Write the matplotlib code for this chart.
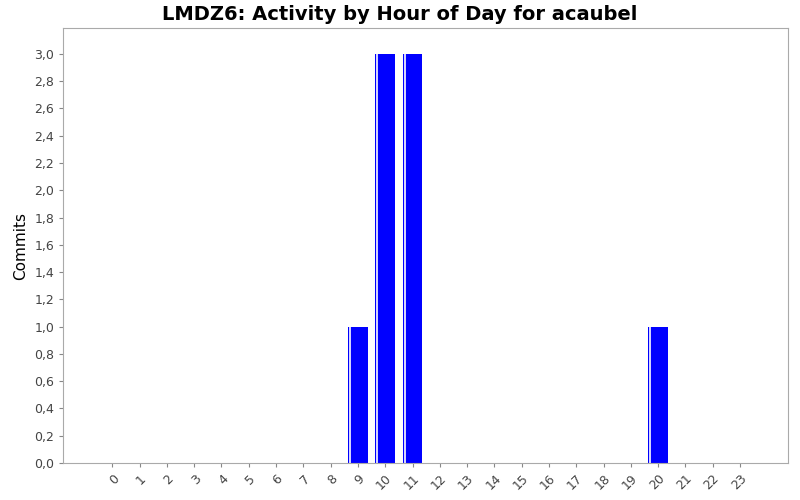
import matplotlib
matplotlib.use("Agg")
import matplotlib.pyplot as plt
from matplotlib.ticker import FuncFormatter

hours = [str(h) for h in range(24)]
commits = [0, 0, 0, 0, 0, 0, 0, 0, 0, 1, 3, 3, 0, 0, 0, 0, 0, 0, 0, 0, 1, 0, 0, 0]
title = "LMDZ6: Activity by Hour of Day for acaubel"

fig = plt.figure(figsize=(8, 5), dpi=100)
ax = fig.add_axes([0.079, 0.074, 0.906, 0.87])
x = list(range(len(hours)))
w = 0.73
ax.bar(x, commits, width=w, color="#0000ff", linewidth=0)
for xi, v in zip(x, commits):
    if v > 0:
        ax.plot([xi - w / 2 + 0.08, xi - w / 2 + 0.08], [0, v], color="white", lw=1.2)

ax.set_xlim(-1.8, 24.76)
ax.set_ylim(0, 3.19)
ax.set_xticks(x)
ax.set_xticklabels(hours, rotation=45, ha="right", rotation_mode="anchor", color="#444444", fontsize=9)
ax.set_yticks([i * 0.2 for i in range(16)])
ax.yaxis.set_major_formatter(FuncFormatter(lambda v, p: f"{v:.1f}".replace(".", ",")))
ax.tick_params(axis="y", labelsize=9, colors="#444444")
ax.tick_params(axis="both", color="#888888", length=3)
for s in ax.spines.values():
    s.set_color("#aaaaaa")
ax.set_ylabel("Commits", fontsize=11)
fig.text(0.5, 0.97, title, ha="center", va="center", fontsize=14, fontweight="bold")
fig.savefig("out.png")
